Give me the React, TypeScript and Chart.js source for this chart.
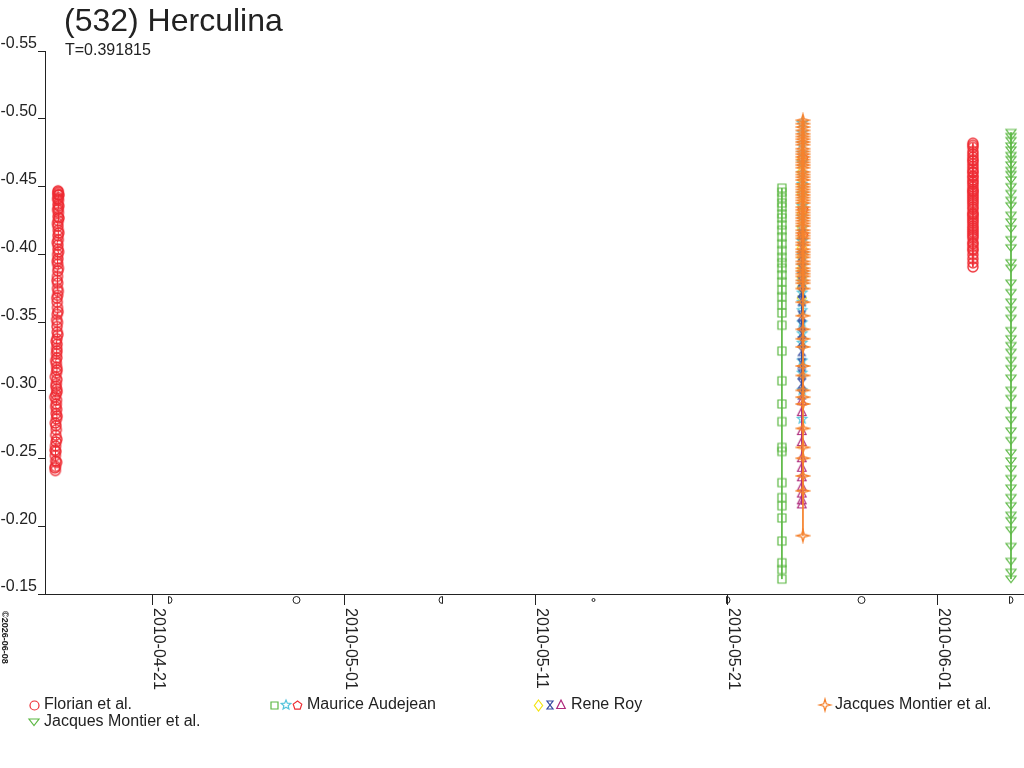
import React, { useEffect, useRef } from "react";
import { Chart, registerables } from "chart.js";

Chart.register(...registerables);

const FONT = '"Liberation Sans", Arial, Helvetica, sans-serif';
const INK = "#222";

const titleText = "(532) Herculina";
const subtitleText = "T=0.391815";
const copyrightText = "©2026-06-08";

// x values are day-of-year 2010 (111 = 2010-04-21)
const xMin = 105.36;
const xMax = 156.51;
const xTickDays = [111, 121, 131, 141, 152];
const xTickLabels = ["2010-04-21", "2010-05-01", "2010-05-11", "2010-05-21", "2010-06-01"];
const yTicks = [-0.55, -0.5, -0.45, -0.4, -0.35, -0.3, -0.25, -0.2, -0.15];

// moon phases shown under the date axis
const moonDays = [111.9, 118.5, 126.0, 134.0, 141.05, 148.0, 155.83];
const moonPhases = ["first", "full", "last", "new", "first", "full", "first"];

// Florian et al. - first night [day, mag]
const florianApril: [number, number][] = [
  [105.90, -0.241], [105.88, -0.243], [105.91, -0.244], [105.97, -0.247], [105.92, -0.248],
  [105.90, -0.252], [105.93, -0.255], [105.89, -0.256], [105.91, -0.259], [105.94, -0.262],
  [105.98, -0.264], [105.92, -0.267], [105.95, -0.271], [105.93, -0.274], [105.90, -0.276],
  [105.96, -0.279], [105.99, -0.281], [105.94, -0.283], [105.97, -0.286], [105.92, -0.288],
  [105.95, -0.290], [105.96, -0.293], [105.87, -0.295], [105.94, -0.297], [105.99, -0.299],
  [105.97, -0.301], [105.93, -0.303], [105.95, -0.305], [105.98, -0.308], [105.90, -0.310],
  [105.96, -0.313], [105.99, -0.315], [105.97, -0.317], [105.95, -0.320], [105.92, -0.322],
  [105.98, -0.324], [105.96, -0.327], [105.98, -0.329], [105.97, -0.331], [105.99, -0.334],
  [105.94, -0.336], [105.98, -0.338], [106.03, -0.341], [106.00, -0.343], [105.99, -0.347],
  [106.01, -0.350], [105.97, -0.352], [106.00, -0.356], [106.04, -0.358], [106.01, -0.361],
  [106.00, -0.365], [105.98, -0.368], [106.02, -0.370], [106.05, -0.373], [106.01, -0.375],
  [106.02, -0.379], [105.99, -0.381], [106.01, -0.384], [106.03, -0.388], [106.06, -0.390],
  [106.02, -0.393], [106.00, -0.395], [106.03, -0.397], [106.02, -0.400], [106.07, -0.402],
  [106.04, -0.404], [106.03, -0.407], [106.00, -0.409], [106.05, -0.411], [106.04, -0.414],
  [106.08, -0.416], [106.05, -0.418], [106.03, -0.421], [106.01, -0.423], [106.05, -0.425],
  [106.09, -0.427], [106.04, -0.428], [106.06, -0.431], [106.02, -0.433], [106.05, -0.434],
  [106.08, -0.436], [106.04, -0.437], [106.06, -0.440], [106.02, -0.441], [106.05, -0.442],
  [106.09, -0.444], [106.04, -0.444], [106.03, -0.445], [106.05, -0.446], [106.04, -0.447],
];

// Florian et al. - second night
const florianJuneDay = 153.84;
const florianJune = [
  -0.482, -0.4805, -0.479, -0.476, -0.474, -0.472, -0.470, -0.469, -0.467, -0.465,
  -0.463, -0.461, -0.4605, -0.458, -0.457, -0.455, -0.4535, -0.452, -0.450, -0.448,
  -0.447, -0.446, -0.4445, -0.443, -0.4415, -0.440, -0.4385, -0.437, -0.435, -0.4335,
  -0.431, -0.430, -0.429, -0.4275, -0.426, -0.4245, -0.423, -0.421, -0.4195, -0.418,
  -0.4165, -0.415, -0.4135, -0.412, -0.409, -0.408, -0.406, -0.404, -0.403, -0.400,
  -0.397, -0.394, -0.391,
];

// Maurice Audejean
const audejeanSquareDay = 143.86;
const audejeanSquares = [
  -0.449, -0.446, -0.442, -0.438, -0.435, -0.430, -0.427, -0.422, -0.418, -0.413,
  -0.408, -0.403, -0.398, -0.394, -0.390, -0.385, -0.380, -0.374, -0.369, -0.363,
  -0.357, -0.348, -0.329, -0.307, -0.290, -0.277, -0.258, -0.255, -0.232, -0.221,
  -0.215, -0.206, -0.189, -0.173, -0.168, -0.161,
];
const audejeanStarDay = 144.92;
const audejeanStars = [
  -0.497, -0.490, -0.482, -0.475, -0.468, -0.460, -0.452, -0.445, -0.436, -0.428,
  -0.420, -0.410, -0.400, -0.392, -0.386, -0.380, -0.372, -0.365, -0.359, -0.350,
  -0.342, -0.335, -0.322, -0.313, -0.300, -0.279,
];
const audejeanPentagons = [-0.471, -0.433, -0.414];

// Rene Roy
const royDay = 144.9;
const royDiamonds = [
  -0.470, -0.461, -0.452, -0.445, -0.437, -0.430, -0.420, -0.412, -0.405, -0.398,
  -0.390, -0.383, -0.376, -0.368,
];
const royHourglasses = [
  -0.415, -0.405, -0.399, -0.390, -0.380, -0.372, -0.366, -0.355, -0.348, -0.342,
  -0.336, -0.329, -0.320, -0.312, -0.305, -0.297,
];
const royTriangles = [
  -0.292, -0.284, -0.270, -0.262, -0.250, -0.243, -0.236, -0.229, -0.224, -0.219, -0.216,
];

// Jacques Montier et al.
const montierDay = 144.96;
const montierStars = [
  -0.499, -0.4965, -0.494, -0.4915, -0.489, -0.487, -0.485, -0.483, -0.481, -0.478,
  -0.476, -0.474, -0.472, -0.470, -0.468, -0.466, -0.464, -0.461, -0.459, -0.457,
  -0.455, -0.452, -0.450, -0.448, -0.446, -0.444, -0.442, -0.440, -0.438, -0.435,
  -0.433, -0.431, -0.429, -0.427, -0.425, -0.423, -0.421, -0.418, -0.416, -0.414,
  -0.412, -0.409, -0.407, -0.404, -0.402, -0.400, -0.398, -0.395, -0.393, -0.390,
  -0.388, -0.386, -0.384, -0.381, -0.379, -0.375, -0.365, -0.355, -0.345, -0.338,
  -0.332, -0.318, -0.311, -0.300, -0.295, -0.290, -0.272, -0.258, -0.250, -0.237,
  -0.226, -0.193,
];
const montier2Day = 155.83;
const montier2Triangles = [
  -0.490, -0.487, -0.484, -0.480, -0.477, -0.473, -0.470, -0.466, -0.462, -0.459,
  -0.455, -0.450, -0.445, -0.440, -0.436, -0.429, -0.424, -0.419, -0.411, -0.405,
  -0.394, -0.390, -0.379, -0.372, -0.365, -0.359, -0.353, -0.344, -0.338, -0.333,
  -0.328, -0.322, -0.316, -0.309, -0.300, -0.294, -0.285, -0.278, -0.270, -0.263,
  -0.254, -0.248, -0.242, -0.235, -0.228, -0.221, -0.215, -0.208, -0.204, -0.197,
  -0.185, -0.174, -0.166, -0.161,
];

const RED = "#ee2c33";
const GREEN = "#5cb844";
const CYAN = "#55c4dc";
const ORANGE = "#f5822e";
const YELLOW = "#f4e414";
const BLUE = "#34489e";
const PURPLE = "#ae2a7c";

type Shape =
  | "circle" | "square" | "triangle" | "triangleDown" | "diamond"
  | "star5" | "star4" | "pentagon" | "hourglass";

function makeSymbol(shape: Shape, color: string, r: number, lw = 1.2): HTMLCanvasElement {
  const size = Math.ceil(r * 2) + 4;
  const cv = document.createElement("canvas");
  cv.width = size;
  cv.height = size;
  const g = cv.getContext("2d")!;
  const m = size / 2;
  g.strokeStyle = color;
  g.lineWidth = lw;
  g.beginPath();
  const star = (n: number, inner: number) => {
    for (let i = 0; i < n * 2; i++) {
      const a = -Math.PI / 2 + (i * Math.PI) / n;
      const rr = i % 2 === 0 ? r : r * inner;
      const px = m + rr * Math.cos(a);
      const py = m + rr * Math.sin(a);
      i === 0 ? g.moveTo(px, py) : g.lineTo(px, py);
    }
  };
  switch (shape) {
    case "circle":
      g.arc(m, m, r, 0, Math.PI * 2);
      break;
    case "square":
      g.rect(m - r, m - r, r * 2, r * 2);
      break;
    case "triangle":
      g.moveTo(m, m - r);
      g.lineTo(m + r * 0.85, m + r * 0.7);
      g.lineTo(m - r * 0.85, m + r * 0.7);
      break;
    case "triangleDown":
      g.moveTo(m - r, m - r * 0.6);
      g.lineTo(m + r, m - r * 0.6);
      g.lineTo(m, m + r * 0.7);
      break;
    case "diamond":
      g.moveTo(m, m - r);
      g.lineTo(m + r * 0.75, m);
      g.lineTo(m, m + r);
      g.lineTo(m - r * 0.75, m);
      break;
    case "star5":
      star(5, 0.45);
      break;
    case "star4":
      star(4, 0.3);
      break;
    case "pentagon":
      for (let i = 0; i < 5; i++) {
        const a = -Math.PI / 2 + (i * 2 * Math.PI) / 5;
        const px = m + r * Math.cos(a);
        const py = m + r * Math.sin(a);
        i === 0 ? g.moveTo(px, py) : g.lineTo(px, py);
      }
      break;
    case "hourglass":
      g.moveTo(m - r * 0.75, m - r);
      g.lineTo(m + r * 0.75, m - r);
      g.lineTo(m - r * 0.75, m + r);
      g.lineTo(m + r * 0.75, m + r);
      break;
  }
  g.closePath();
  g.stroke();
  return cv;
}

const night = (day: number, mags: number[]) => mags.map((y) => ({ x: day, y }));

const App = () => {
  const chartRef = useRef<HTMLCanvasElement | null>(null);
  const chartInstanceRef = useRef<Chart | null>(null);

  useEffect(() => {
    if (!chartRef.current) return;
    if (chartInstanceRef.current) chartInstanceRef.current.destroy();

    const sym = {
      florian: makeSymbol("circle", RED, 5, 1.4),
      audSq: makeSymbol("square", GREEN, 4),
      audStar: makeSymbol("star5", CYAN, 5),
      audPent: makeSymbol("pentagon", RED, 5),
      royDia: makeSymbol("diamond", YELLOW, 6),
      royHour: makeSymbol("hourglass", BLUE, 4.5),
      royTri: makeSymbol("triangle", PURPLE, 5),
      montier: makeSymbol("star4", ORANGE, 6, 1.4),
      montier2: makeSymbol("triangleDown", GREEN, 5),
    };
    const leg = {
      florian: makeSymbol("circle", RED, 4.5),
      audSq: makeSymbol("square", GREEN, 3.5),
      audStar: makeSymbol("star5", CYAN, 5),
      audPent: makeSymbol("pentagon", RED, 4.5),
      royDia: makeSymbol("diamond", YELLOW, 5.5),
      royHour: makeSymbol("hourglass", BLUE, 4),
      royTri: makeSymbol("triangle", PURPLE, 5),
      montier: makeSymbol("star4", ORANGE, 6),
      montier2: makeSymbol("triangleDown", GREEN, 5),
    };

    const legendRows = [
      { label: "Florian et al.", keys: ["florian"], x: 34, y: 705 },
      { label: "Maurice Audejean", keys: ["audSq", "audStar", "audPent"], x: 274, y: 705 },
      { label: "Rene Roy", keys: ["royDia", "royHour", "royTri"], x: 538, y: 705 },
      { label: "Jacques Montier et al.", keys: ["montier"], x: 825, y: 705 },
      { label: "Jacques Montier et al.", keys: ["montier2"], x: 34, y: 722 },
    ];

    const series = (data: { x: number; y: number }[], pointStyle: HTMLCanvasElement, color: string) => ({
      data,
      pointStyle,
      pointRadius: 5,
      pointHoverRadius: 5,
      showLine: true,
      borderColor: color,
      backgroundColor: color,
      borderWidth: 1,
      fill: false,
    });

    const decor = {
      id: "decor",
      afterDraw(chart: Chart) {
        const { ctx } = chart;
        const xs = chart.scales.x;
        ctx.save();
        ctx.fillStyle = INK;
        ctx.strokeStyle = INK;
        ctx.lineWidth = 1;
        ctx.textAlign = "left";
        ctx.textBaseline = "alphabetic";
        ctx.font = `32px ${FONT}`;
        ctx.fillText(titleText, 64, 31);
        ctx.font = `16px ${FONT}`;
        ctx.fillText(subtitleText, 65, 55);

        // date labels, turned clockwise
        xTickDays.forEach((d, i) => {
          const px = xs.getPixelForValue(d);
          ctx.save();
          ctx.translate(px + 1.5, 608);
          ctx.rotate(Math.PI / 2);
          ctx.fillText(xTickLabels[i], 0, 0);
          ctx.restore();
        });

        // moon phases
        const my = 600;
        moonDays.forEach((d, i) => {
          const px = Math.round(xs.getPixelForValue(d)) + 0.5;
          ctx.beginPath();
          const kind = moonPhases[i];
          if (kind === "full") ctx.arc(px, my, 3.5, 0, Math.PI * 2);
          else if (kind === "new") ctx.arc(px, my, 1.5, 0, Math.PI * 2);
          else if (kind === "first") {
            ctx.moveTo(px - 2, my - 3.5);
            ctx.arc(px - 2, my, 3.5, -Math.PI / 2, Math.PI / 2);
            ctx.closePath();
          } else {
            ctx.moveTo(px + 2, my - 3.5);
            ctx.arc(px + 2, my, 3.5, -Math.PI / 2, Math.PI / 2, true);
            ctx.closePath();
          }
          ctx.stroke();
        });

        // copyright, turned clockwise
        ctx.save();
        ctx.font = `bold 9px ${FONT}`;
        ctx.translate(2, 611);
        ctx.rotate(Math.PI / 2);
        ctx.fillText(copyrightText, 0, 0);
        ctx.restore();

        // legend
        ctx.font = `16px ${FONT}`;
        ctx.textBaseline = "middle";
        legendRows.forEach((row) => {
          let lx = row.x;
          row.keys.forEach((k, j) => {
            const img = (leg as any)[k] as HTMLCanvasElement;
            lx = row.x + j * 11.5;
            ctx.drawImage(img, Math.round(lx - img.width / 2), Math.round(row.y - img.height / 2));
          });
          ctx.fillText(row.label, lx + 10, row.y);
        });
        ctx.restore();
      },
    };

    chartInstanceRef.current = new Chart(chartRef.current, {
      type: "scatter",
      data: {
        datasets: [
          series(night(montierDay, montierStars), sym.montier, ORANGE),
          series(night(royDay, royTriangles), sym.royTri, PURPLE),
          series(night(royDay, royHourglasses), sym.royHour, BLUE),
          series(night(audejeanStarDay, audejeanStars), sym.audStar, CYAN),
          series(night(royDay, royDiamonds), sym.royDia, YELLOW),
          series(night(montierDay, audejeanPentagons), sym.audPent, RED),
          series(night(audejeanSquareDay, audejeanSquares), sym.audSq, GREEN),
          series(florianApril.map(([x, y]) => ({ x, y })), sym.florian, RED),
          series(night(florianJuneDay, florianJune), sym.florian, RED),
          series(night(montier2Day, montier2Triangles), sym.montier2, GREEN),
        ] as any,
      },
      options: {
        responsive: false,
        animation: false,
        devicePixelRatio: 1,
        layout: { autoPadding: false, padding: { top: 51, left: 0, right: 0, bottom: 0 } },
        plugins: { legend: { display: false }, tooltip: { enabled: false }, title: { display: false } },
        scales: {
          x: {
            type: "linear",
            min: xMin,
            max: xMax,
            afterBuildTicks: (scale: any) => {
              scale.ticks = xTickDays.map((value) => ({ value }));
            },
            afterFit: (scale: any) => {
              scale.height = 174;
              scale.paddingLeft = 0;
              scale.paddingRight = 0;
            },
            ticks: { display: false, padding: 0 },
            grid: { drawOnChartArea: false, drawTicks: true, tickLength: 11, color: INK },
            border: { display: true, color: INK },
          },
          y: {
            type: "linear",
            reverse: true,
            min: -0.55,
            max: -0.15,
            afterBuildTicks: (scale: any) => {
              scale.ticks = yTicks.map((value) => ({ value }));
            },
            afterFit: (scale: any) => {
              scale.width = 45;
            },
            ticks: {
              color: INK,
              font: { family: FONT, size: 16 },
              padding: 1,
              labelOffset: -7,
              callback: (v: any) => Number(v).toFixed(2),
            },
            grid: { drawOnChartArea: false, drawTicks: true, tickLength: 7, color: INK },
            border: { display: true, color: INK },
          },
        },
      } as any,
      plugins: [decor],
    });

    return () => {
      if (chartInstanceRef.current) {
        chartInstanceRef.current.destroy();
        chartInstanceRef.current = null;
      }
    };
  }, []);

  return (
    <div style={{ position: "absolute", left: 0, top: 0, width: 1024, height: 768, background: "#fff" }}>
      <canvas ref={chartRef} width={1024} height={768} />
    </div>
  );
};

export default App;
